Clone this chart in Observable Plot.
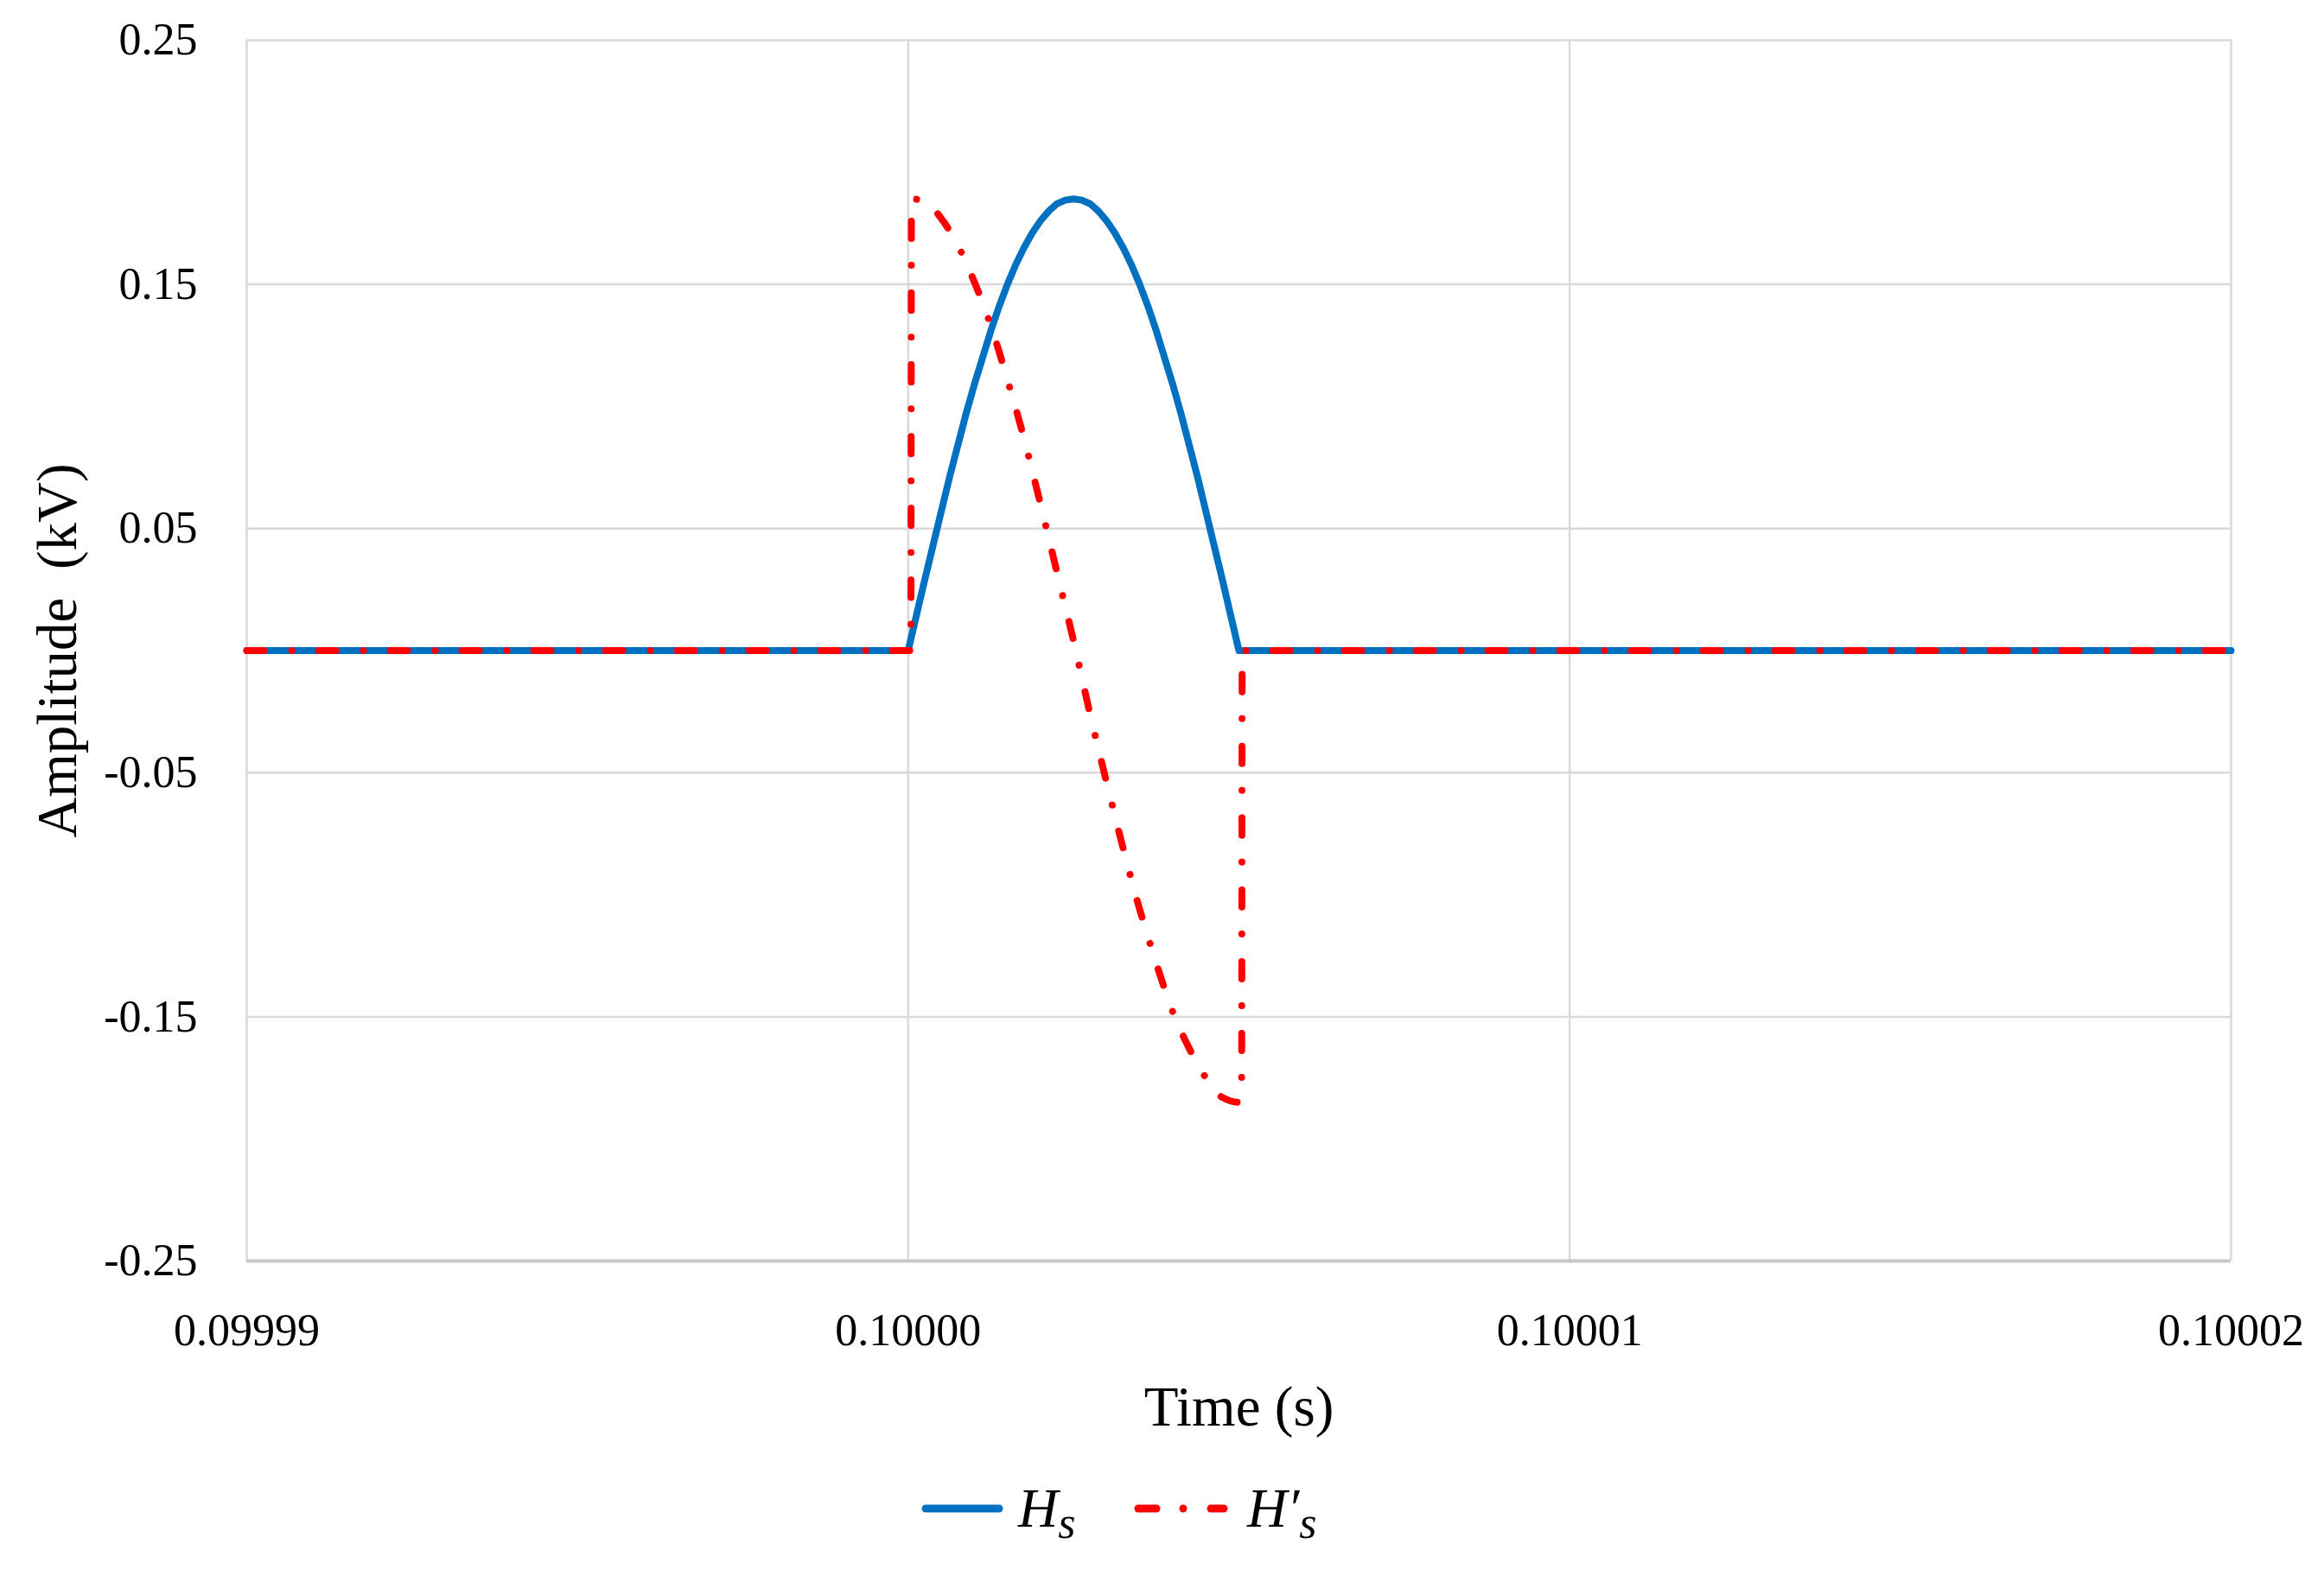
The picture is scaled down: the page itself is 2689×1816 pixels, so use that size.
<!DOCTYPE html>
<html>
<head>
<meta charset="utf-8">
<script src="https://cdn.jsdelivr.net/npm/d3@7"></script>
<script src="https://cdn.jsdelivr.net/npm/@observablehq/plot@0.6"></script>
<style>
  html, body { margin: 0; padding: 0; background: #fff; }
  #chart svg { display: block; }
  #legend { width: 2689px; height: 126px; }
  #legend svg { display: block; }
</style>
</head>
<body>
<div id="chart"></div>
<div id="legend"></div>
<script>
// Time offsets in microseconds from t = 0.1 s, and amplitudes in kV
const hsTimeUs = [-10, 0, 0.125, 0.25, 0.375, 0.5, 0.625, 0.75, 0.875, 1, 1.125, 1.25, 1.375, 1.5, 1.625, 1.75, 1.875, 2, 2.125, 2.25, 2.375,
  2.5, 2.625, 2.75, 2.875, 3, 3.125, 3.25, 3.375, 3.5, 3.625, 3.75, 3.875, 4, 4.125, 4.25, 4.375, 4.5, 4.625, 4.75, 4.875, 5, 20];
const hsValue  = [0, 0, 0.0145, 0.029, 0.043, 0.057, 0.071, 0.084, 0.097, 0.109, 0.120, 0.131, 0.141, 0.150, 0.158, 0.165, 0.171, 0.176, 0.180, 0.183, 0.1845,
  0.185, 0.1845, 0.183, 0.180, 0.176, 0.171, 0.165, 0.158, 0.150, 0.141, 0.131, 0.120, 0.109, 0.097, 0.084, 0.071, 0.057, 0.043, 0.029, 0.0145, 0, 0];

const hpTimeUs = [-10, 0.04, 0.05, 0.25, 0.5, 0.75, 1, 1.25, 1.5, 1.75, 2, 2.25, 2.5, 2.75, 3, 3.25, 3.5, 3.75, 4, 4.25, 4.5, 4.75, 5, 5.04, 5.05, 20];
const hpValue  = [0, 0, 0.185, 0.184, 0.177, 0.166, 0.151, 0.133, 0.111, 0.087, 0.060, 0.032, 0.004, -0.026, -0.054, -0.081, -0.106, -0.128, -0.148, -0.163, -0.175, -0.183, -0.185, -0.183, 0, 0];

const xTicks = [0.09999, 0.10000, 0.10001, 0.10002];
const xTickLabels = ["0.09999", "0.10000", "0.10001", "0.10002"];
const yTicks = [-0.25, -0.15, -0.05, 0.05, 0.15, 0.25];
const yTickLabels = ["-0.25", "-0.15", "-0.05", "0.05", "0.15", "0.25"];

const seriesColors = ["#0070c0", "#ff0000"];

const toSec = us => 0.1 + us / 1e6;
const hs = hsTimeUs.map((t, i) => ({t: toSec(t), v: hsValue[i]}));
const hp = hpTimeUs.map((t, i) => ({t: toSec(t), v: hpValue[i]}));

const chart = Plot.plot({
  width: 2689,
  height: 1690,
  marginLeft: 285,
  marginRight: 108,
  marginTop: 46,
  marginBottom: 231,
  style: {fontFamily: "Liberation Serif", fontSize: "52px", color: "#000", background: "#fff"},
  x: {domain: [0.09999, 0.10002]},
  y: {domain: [-0.25, 0.25]},
  marks: [
    Plot.gridX(xTicks, {stroke: "#d9d9d9", strokeOpacity: 1, strokeWidth: 2.5}),
    Plot.gridY(yTicks, {stroke: "#d9d9d9", strokeOpacity: 1, strokeWidth: 2.5}),
    Plot.ruleY([-0.25], {stroke: "#c8c8c8", strokeWidth: 4}),
    Plot.axisX(xTicks, {tickSize: 0, tickPadding: 61, label: null,
      tickFormat: (d, i) => xTickLabels[i], fontSize: 52}),
    Plot.axisY(yTicks, {tickSize: 0, tickPadding: 57, label: null,
      tickFormat: (d, i) => yTickLabels[i], fontSize: 52}),
    Plot.text(["Time (s)"], {frameAnchor: "bottom", lineAnchor: "middle", textAnchor: "middle",
      dy: 170, fontSize: 65, fill: "#000"}),
    Plot.text(["Amplitude  (kV)"], {frameAnchor: "left", lineAnchor: "middle", textAnchor: "middle",
      dx: -218, rotate: -90, fontSize: 65, fill: "#000"}),
    Plot.line(hs, {x: "t", y: "v", stroke: seriesColors[0], strokeWidth: 8, curve: "linear",
      strokeLinejoin: "round"}),
    Plot.line(hp, {x: "t", y: "v", stroke: seriesColors[1], strokeWidth: 8, curve: "monotone-x",
      strokeLinecap: "round", strokeLinejoin: "round", strokeDasharray: "20,32,0.01,31"})
  ]
});
document.getElementById("chart").appendChild(chart);

// Legend below the SVG
document.getElementById("legend").innerHTML = `
  <svg width="2689" height="126" font-family="Liberation Serif" font-style="italic">
    <line x1="1071" y1="56" x2="1156" y2="56" stroke="${seriesColors[0]}" stroke-width="9" stroke-linecap="round"/>
    <line x1="1317" y1="56" x2="1338" y2="56" stroke="${seriesColors[1]}" stroke-width="9" stroke-linecap="round"/>
    <line x1="1369" y1="56" x2="1369.01" y2="56" stroke="${seriesColors[1]}" stroke-width="9" stroke-linecap="round"/>
    <line x1="1401" y1="56" x2="1416" y2="56" stroke="${seriesColors[1]}" stroke-width="9" stroke-linecap="round"/>
    <text x="1178" y="77" font-size="64" fill="#000">H<tspan dy="13" font-size="52">s</tspan></text>
    <text x="1443" y="77" font-size="64" fill="#000">H′<tspan dy="13" font-size="52">s</tspan></text>
  </svg>
`;
</script>
</body>
</html>
